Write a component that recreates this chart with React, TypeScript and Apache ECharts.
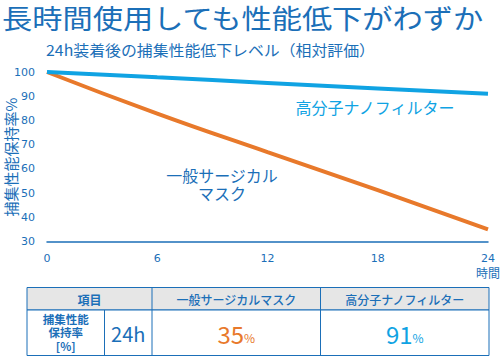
import React, { useEffect, useRef } from "react";
import * as echarts from "echarts";

const hours = ["0", "6", "12", "18", "24"];
const surgicalMask = [100, 82.8, 66.9, 51.2, 35];
const nanoFilter = [100, 97.8, 95.5, 93.2, 91];
const yTicks = { min: 30, max: 100, interval: 10 };

const title = "長時間使用しても性能低下がわずか";
const subtitle = "24h装着後の捕集性能低下レベル（相対評価）";
const yName = "捕集性能保持率%";
const xUnit = "時間";
const maskLabel = ["一般サージカル", "マスク"];
const nanoLabel = "高分子ナノフィルター";

const tableHeader = ["項目", "一般サージカルマスク", "高分子ナノフィルター"];
const rowLabel = ["捕集性能", "保持率", "[%]"];
const rowTime = "24h";
const rowValues = [35, 91];

const DARK = "#1b6fb8";
const LIGHT = "#10a3e3";
const ORANGE = "#e8792b";
const JP = "'Noto Sans CJK JP', sans-serif";
const NUM = "'DejaVu Sans', sans-serif";

export default function App() {
  const ref = useRef<HTMLDivElement>(null);
  useEffect(() => {
    document.body.style.margin = "0";
    const chart = echarts.init(ref.current!, null, { renderer: "svg" });

    // table geometry
    const tx = [27, 104.5, 152, 320.5, 489];
    const ty = [287.5, 310, 355.5];
    const border = { stroke: DARK, lineWidth: 1 };
    const tableEls: any[] = [
      { type: "rect", shape: { x: tx[0], y: ty[0], width: tx[4] - tx[0], height: ty[1] - ty[0] }, style: { fill: "#e6e6e6", ...border } },
      { type: "rect", shape: { x: tx[0], y: ty[1], width: tx[4] - tx[0], height: ty[2] - ty[1] }, style: { fill: "#ffffff", ...border } },
      { type: "line", shape: { x1: tx[1], y1: ty[1], x2: tx[1], y2: ty[2] }, style: border },
      { type: "line", shape: { x1: tx[2], y1: ty[0], x2: tx[2], y2: ty[2] }, style: border },
      { type: "line", shape: { x1: tx[3], y1: ty[0], x2: tx[3], y2: ty[2] }, style: border },
      { type: "text", x: (tx[0] + tx[2]) / 2, y: (ty[0] + ty[1]) / 2 + 1, style: { text: tableHeader[0], font: `bold 12px ${JP}`, fill: DARK, align: "center", verticalAlign: "middle" } },
      { type: "text", x: (tx[2] + tx[3]) / 2, y: (ty[0] + ty[1]) / 2 + 1, style: { text: tableHeader[1], font: `500 12px ${JP}`, fill: DARK, align: "center", verticalAlign: "middle" } },
      { type: "text", x: (tx[3] + tx[4]) / 2, y: (ty[0] + ty[1]) / 2 + 1, style: { text: tableHeader[2], font: `500 12px ${JP}`, fill: DARK, align: "center", verticalAlign: "middle" } },
      ...rowLabel.map((t, i) => ({
        type: "text", x: (tx[0] + tx[1]) / 2, y: 318.5 + i * 13.5,
        style: { text: t, font: `bold 11.5px ${JP}`, fill: DARK, align: "center", verticalAlign: "middle" },
      })),
      { type: "text", x: (tx[1] + tx[2]) / 2, y: (ty[1] + ty[2]) / 2 + 1, style: { text: rowTime, font: `20px ${JP}`, fill: DARK, align: "center", verticalAlign: "middle" } },
      {
        type: "text", x: (tx[2] + tx[3]) / 2, y: (ty[1] + ty[2]) / 2 + 1,
        style: {
          text: `{a|${rowValues[0]}}{b|%}`, align: "center", verticalAlign: "middle",
          rich: { a: { font: `24px ${JP}`, fill: ORANGE, verticalAlign: "bottom" }, b: { font: `12px ${JP}`, fill: ORANGE, verticalAlign: "bottom", padding: [0, 0, 2, 0] } },
        },
      },
      {
        type: "text", x: (tx[3] + tx[4]) / 2, y: (ty[1] + ty[2]) / 2 + 1,
        style: {
          text: `{a|${rowValues[1]}}{b|%}`, align: "center", verticalAlign: "middle",
          rich: { a: { font: `24px ${JP}`, fill: LIGHT, verticalAlign: "bottom" }, b: { font: `12px ${JP}`, fill: LIGHT, verticalAlign: "bottom", padding: [0, 0, 2, 0] } },
        },
      },
    ];

    chart.setOption({
      animation: false,
      grid: { left: 47, right: 12, top: 72, bottom: 114.5 },
      xAxis: {
        type: "category",
        data: hours,
        boundaryGap: false,
        axisLine: { lineStyle: { color: DARK, width: 1.5 } },
        axisTick: { show: false },
        axisLabel: { color: DARK, fontSize: 11, fontFamily: NUM, margin: 11 },
        splitLine: { show: false },
      },
      yAxis: {
        type: "value",
        min: yTicks.min,
        max: yTicks.max,
        interval: yTicks.interval,
        axisLine: { show: false },
        axisTick: { show: false },
        splitLine: { show: false },
        axisLabel: { color: DARK, fontSize: 11, fontFamily: NUM, margin: 12 },
      },
      series: [
        { type: "line", data: nanoFilter, smooth: true, symbol: "none", lineStyle: { color: LIGHT, width: 4 }, z: 3 },
        { type: "line", data: surgicalMask, smooth: true, symbol: "none", lineStyle: { color: ORANGE, width: 4 }, z: 2 },
      ],
      graphic: [
        { type: "text", x: 2, y: 17, scaleX: 1.12, style: { text: title, font: `27px ${JP}`, fill: DARK, align: "left", verticalAlign: "middle" } },
        { type: "text", x: 46, y: 49, scaleX: 1.06, style: { text: subtitle, font: `15px ${JP}`, fill: DARK, align: "left", verticalAlign: "middle" } },
        { type: "text", x: 10, y: 157, rotation: Math.PI / 2, style: { text: yName, font: `15px ${JP}`, fill: DARK, align: "center", verticalAlign: "middle" } },
        { type: "text", x: 488, y: 272, style: { text: xUnit, font: `12px ${JP}`, fill: DARK, align: "center", verticalAlign: "middle" } },
        { type: "text", x: 375, y: 106.5, style: { text: nanoLabel, font: `16px ${JP}`, fill: LIGHT, align: "center", verticalAlign: "middle" } },
        { type: "text", x: 222, y: 174.5, style: { text: maskLabel[0], font: `16px ${JP}`, fill: DARK, align: "center", verticalAlign: "middle" } },
        { type: "text", x: 222, y: 192.5, style: { text: maskLabel[1], font: `16px ${JP}`, fill: DARK, align: "center", verticalAlign: "middle" } },
        ...tableEls,
      ],
    });
    return () => chart.dispose();
  }, []);
  return <div ref={ref} style={{ position: "absolute", left: 0, top: 0, width: 500, height: 356 }} />;
}
